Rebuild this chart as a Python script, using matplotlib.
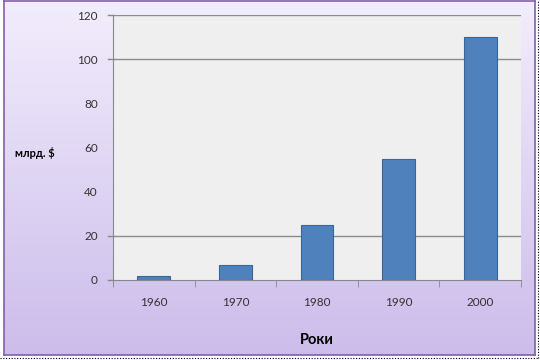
import numpy as np
import matplotlib.pyplot as plt
from matplotlib.lines import Line2D

years = ['1960', '1970', '1980', '1990', '2000']
values = [2, 7, 25, 55, 110]
y_ticks = [0, 20, 40, 60, 80, 100, 120]
grid_levels = [20, 100, 120]
tick_marks = [0, 20, 100, 120]

plt.rcParams['font.family'] = ['Lato', 'DejaVu Sans']

fig = plt.figure(figsize=(5.4, 3.6), dpi=100)
fig.patch.set_facecolor('white')

# gradient background of the chart area
bg = fig.add_axes([4/540, 5/360, 531/540, 354/360])
grad = np.linspace(0, 1, 256).reshape(-1, 1)
top = np.array([0.95, 0.93, 0.99])
bot = np.array([0.80, 0.74, 0.92])
img = top[None, None, :] * (1 - grad[:, :, None]) + bot[None, None, :] * grad[:, :, None]
bg.imshow(img, aspect='auto', extent=[0, 1, 0, 1])
bg.set_xticks([])
bg.set_yticks([])
for s in bg.spines.values():
    s.set_color('#8060a8')
    s.set_linewidth(1.2)

# dotted shadow lines right and bottom
fig.add_artist(Line2D([538/540, 538/540], [2/360, 1], color='black', lw=0.8, ls=(0, (1, 1.5))))
fig.add_artist(Line2D([0, 538/540], [2/360, 2/360], color='black', lw=0.8, ls=(0, (1, 1.5))))

ax = fig.add_axes([113/540, 1 - 280/360, 408/540, 265/360])
ax.set_facecolor('#efefef')
x = np.arange(len(years))
ax.bar(x, values, width=0.4, color='#4f81bd', edgecolor='#3a6595', linewidth=0.8, zorder=3)

ax.set_xlim(-0.5, len(years) - 0.5)
ax.set_ylim(0, 120)
ax.set_yticks(y_ticks)
ax.set_yticklabels([str(v) for v in y_ticks], fontsize=8.5, color='#333333')
ax.tick_params(axis='y', length=0, pad=11)
ax.set_xticks(x)
ax.set_xticklabels(years, fontsize=8.5, color='#333333')
ax.tick_params(axis='x', length=0, pad=12)
ax.set_xticks(np.arange(-0.5, len(years)), minor=True)
ax.tick_params(axis='x', which='minor', length=5, color='#888888', direction='out')

for lv in grid_levels:
    ax.axhline(lv, color='#8c8c8c', linewidth=1.0, zorder=1)
for lv in tick_marks:
    ax.plot([-0.5 - 0.06, -0.5], [lv, lv], color='#888888', lw=1.0, clip_on=False)

for side in ['top', 'right']:
    ax.spines[side].set_visible(False)
ax.spines['left'].set_color('#888888')
ax.spines['bottom'].set_color('#888888')

ax.set_xlabel('Роки', fontsize=10.5, fontweight='bold', labelpad=18)
fig.text(15/540, 1 - 153/360, 'млрд. $', fontsize=8, fontweight='bold', va='center', ha='left')

fig.savefig('out.png', dpi=100)
